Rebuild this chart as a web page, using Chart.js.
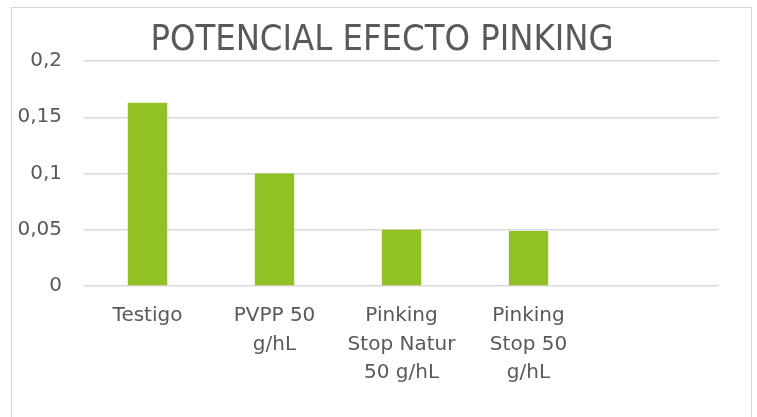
<!DOCTYPE html>
<html>
<head>
<meta charset="utf-8">
<script src="https://cdn.jsdelivr.net/npm/chart.js@4"></script>
<style>
    html, body { margin: 0; padding: 0; background: #fff; }
    #wrap { position: relative; width: 757px; height: 417px; overflow: hidden; }
    #frame { position: absolute; left: 11px; top: 7px; width: 739px; height: 430px; border: 1.5px solid #d9d9d9; }
    canvas { position: absolute; left: 0; top: 0; }
</style>
</head>
<body>
<div id="wrap">
    <div id="frame"></div>
    <canvas id="pinkingChart" width="757" height="417"></canvas>
</div>
<script>
// Chart data
const chartTitle = 'POTENCIAL EFECTO PINKING';
const categories = [['Testigo'], ['PVPP 50', 'g/hL'], ['Pinking', 'Stop Natur', '50 g/hL'], ['Pinking', 'Stop 50', 'g/hL'], ''];
const pinkingValues = [0.163, 0.1, 0.05, 0.049, null];
const yTicks = [0, 0.05, 0.1, 0.15, 0.2];

const textColor = '#595959';
const fontFamily = "'DejaVu Sans', sans-serif";

const ctx = document.getElementById('pinkingChart').getContext('2d');
const pinkingChart = new Chart(ctx, {
    type: 'bar',
    data: {
        labels: categories,
        datasets: [{
            label: 'Potencial',
            data: pinkingValues,
            backgroundColor: '#92c125',
            borderWidth: 0,
            categoryPercentage: 1,
            barPercentage: 0.31
        }]
    },
    options: {
        responsive: false,
        animation: false,
        layout: {
            padding: { top: 10, right: 0, left: 7, bottom: 0 }
        },
        plugins: {
            legend: { display: false },
            tooltip: { enabled: false },
            title: {
                display: true,
                text: chartTitle,
                color: textColor,
                font: { family: "'DejaVu Sans Condensed', 'DejaVu Sans', sans-serif", size: 36, weight: 'normal', lineHeight: 1 },
                padding: { top: 13, bottom: 2 }
            }
        },
        scales: {
            x: {
                grid: { display: false, drawTicks: false },
                border: { display: false },
                ticks: {
                    color: textColor,
                    font: { family: fontFamily, size: 20, lineHeight: 1.42 },
                    maxRotation: 0,
                    autoSkip: false,
                    padding: 16
                },
                afterFit: function (scale) {
                    scale.height = 131;
                }
            },
            y: {
                min: 0,
                max: 0.2,
                afterBuildTicks: function (scale) {
                    scale.ticks = yTicks.map(v => ({ value: v }));
                },
                grid: { color: '#d9d9d9', lineWidth: 1.5, drawTicks: false },
                border: { display: false },
                ticks: {
                    color: textColor,
                    font: { family: fontFamily, size: 20 },
                    padding: 22,
                    callback: function (value) {
                        return String(value).replace('.', ',');
                    }
                },
                afterFit: function (scale) {
                    scale.width = 77;
                }
            },
            // empty right-hand axis: keeps the plot clear of the right edge
            yRight: {
                position: 'right',
                min: 0,
                max: 0.2,
                grid: { display: false, drawTicks: false },
                border: { display: false },
                ticks: { display: false },
                afterFit: function (scale) {
                    scale.width = 38;
                }
            }
        }
    }
});
</script>
</body>
</html>
